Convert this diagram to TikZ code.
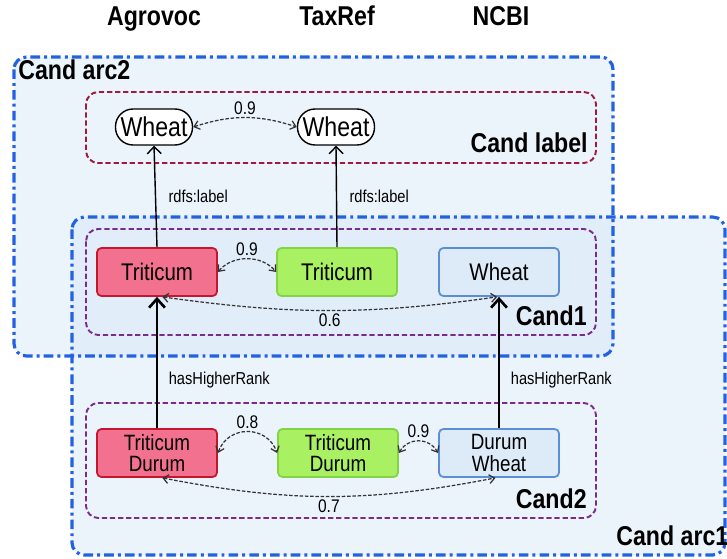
\documentclass[tikz,border=0pt]{standalone}
\usepackage{fontspec}
\setmainfont{Liberation Sans}[FakeStretch=0.85]
\usetikzlibrary{arrows.meta}
\definecolor{arcblue}{HTML}{2262E2}
\definecolor{arcfill}{HTML}{D8E7F8}
\definecolor{labelred}{HTML}{9E1A3E}
\definecolor{candpurple}{HTML}{7A2C8C}
\definecolor{agrofill}{HTML}{F2718F}
\definecolor{agrodraw}{HTML}{C4162F}
\definecolor{taxfill}{HTML}{A9F063}
\definecolor{taxdraw}{HTML}{82D445}
\definecolor{ncbifill}{HTML}{DDEBF9}
\definecolor{ncbidraw}{HTML}{5B8ED6}
\tikzset{
	arcbox/.style={draw=arcblue, line width=1.8pt, rounded corners=7pt, dash pattern=on 5.5pt off 2.3pt on 1.7pt off 2.3pt},
	candbox/.style={line width=1.1pt, rounded corners=7pt, dash pattern=on 3pt off 1.6pt},
	boxname/.style={font=\bfseries\fontsize{15.5}{18}\selectfont, inner sep=0pt},
	term/.style={draw, line width=1pt, rounded corners=2.5pt, minimum width=2.4cm, minimum height=0.96cm, inner sep=0pt, align=center, font=\fontsize{13.7}{15}\selectfont},
	twoline/.style={term, font=\fontsize{12.6}{12}\selectfont},
	labelterm/.style={draw, line width=0.8pt, fill=white, rounded corners=10pt, minimum width=1.54cm, minimum height=0.72cm, inner sep=0pt, font=\fontsize{15.5}{17}\selectfont},
	simlink/.style={<->, >={Straight Barb[length=3pt,width=5pt]}, draw=black!80, line width=0.7pt, dash pattern=on 2pt off 1pt},
	simval/.style={font=\fontsize{10.4}{12}\selectfont, inner sep=1.5pt},
	rdfslink/.style={->, >={Straight Barb[length=4pt,width=8pt]}, line width=0.8pt},
	ranklink/.style={->, >={Straight Barb[length=5pt,width=9pt]}, line width=1.5pt},
	relname/.style={font=\fontsize{9.8}{12}\selectfont, anchor=west, inner sep=0pt}
}
\begin{document}
\begin{tikzpicture}[x=0.02cm,y=-0.02cm]
	\useasboundingbox (0,0) rectangle (727,558);
	% sources
		\node [boxname, anchor=base] (agrovoc) at (154,25) {Agrovoc};
		\node [boxname, anchor=base] (taxref) at (337,25) {TaxRef};
		\node [boxname, anchor=base] (ncbi) at (501,25) {NCBI};
	% candidate arcs
		\fill [arcfill, fill opacity=0.5, rounded corners=7pt] (14,57) rectangle (613,356);
		\fill [arcfill, fill opacity=0.5, rounded corners=7pt] (72,217) rectangle (725,555);
		\draw [arcbox] (14,57) rectangle (613,356);
		\draw [arcbox] (72,217) rectangle (725,555);
		\node [boxname, anchor=base west] (arcB) at (18,79) {Cand arc2};
		\node [boxname, anchor=base west] (arcA) at (616,545) {Cand arc1};
	% candidate sets
		\draw [candbox, draw=labelred] (86,92) rectangle (596,163);
		\draw [candbox, draw=candpurple] (86,229) rectangle (596,335);
		\draw [candbox, draw=candpurple] (86,403) rectangle (596,518);
		\node [boxname, anchor=base east] (candL) at (588,152) {Cand label};
		\node [boxname, anchor=base east] (candA) at (587,325) {Cand1};
		\node [boxname, anchor=base east] (candB) at (587,508) {Cand2};
	% labels
		\node [labelterm] (wheatA) at (154,127) {Wheat};
		\node [labelterm] (wheatB) at (336,127) {Wheat};
	% first level
		\node [term, fill=agrofill, draw=agrodraw] (tritA) at (157,272) {Triticum};
		\node [term, fill=taxfill, draw=taxdraw] (tritB) at (337,272) {Triticum};
		\node [term, fill=ncbifill, draw=ncbidraw] (wheatC) at (499,272) {Wheat};
	% second level
		\node [twoline, fill=agrofill, draw=agrodraw] (durA) at (157,453) {Triticum\\Durum};
		\node [twoline, fill=taxfill, draw=taxdraw] (durB) at (338,453) {Triticum\\Durum};
		\node [twoline, fill=ncbifill, draw=ncbidraw] (durC) at (499,453) {Durum\\Wheat};
	% rdfs:label
		\draw [rdfslink] (tritA.north) -- (wheatA.south) node [relname, pos=0.5, xshift=7pt] {rdfs:label};
		\draw [rdfslink] (tritB.north) -- (wheatB.south) node [relname, pos=0.5, xshift=7pt] {rdfs:label};
	% hasHigherRank
		\draw [ranklink] (durA.north) -- (tritA.south) node [relname, pos=0.37, xshift=6pt] {hasHigherRank};
		\draw [ranklink] (durC.north) -- (wheatC.south) node [relname, pos=0.37, xshift=6pt] {hasHigherRank};
	% similarities
		\draw [simlink] (wheatA.east) to [bend left=18] node [simval, above] {0.9} (wheatB.west);
		\draw [simlink] (tritA.east) to [out=50, in=130] node [simval, above] {0.9} (tritB.west);
		\draw [simlink] ([xshift=3pt]tritA.south) to [bend right=8] node [simval, below] {0.6} ([xshift=-1pt]wheatC.south);
		\draw [simlink] (durA.east) to [out=70, in=110, looseness=1.3] node [simval, above] {0.8} (durB.west);
		\draw [simlink] (durB.east) to [out=60, in=120, looseness=1.2] node [simval, above] {0.9} (durC.west);
		\draw [simlink] ([xshift=3pt]durA.south) to [bend right=11] node [simval, below] {0.7} ([xshift=-2pt]durC.south);
\end{tikzpicture}
\end{document}
